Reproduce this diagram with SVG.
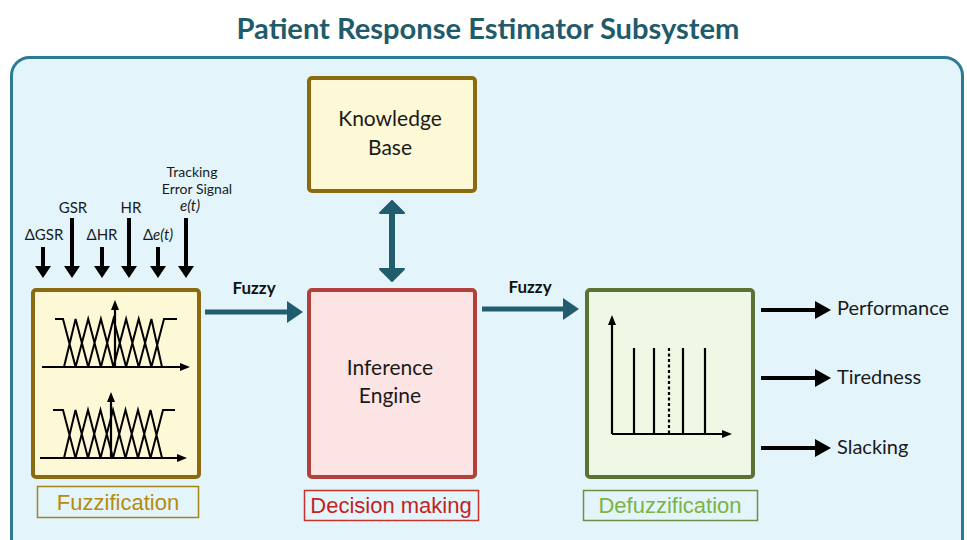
<svg xmlns="http://www.w3.org/2000/svg" width="967" height="540" viewBox="0 0 967 540">
<style>
.cal{font-family:Lato,"Open Sans","Liberation Sans",sans-serif;fill:#1a1a1a}
.lbl{font-family:"Liberation Sans",Arial,sans-serif;font-size:22px;text-anchor:middle}
.box{stroke-width:4}
.ax{stroke:#000;stroke-width:2.2;fill:none}
.mf{stroke:#000;stroke-width:2;fill:none;stroke-linejoin:miter}
.teal{stroke:#215d6e;stroke-width:5;fill:none}
.blk{stroke:#000;stroke-width:4;fill:none}
.fz{font-family:Lato,"Open Sans",sans-serif;font-weight:bold;font-size:17px;fill:#111;text-anchor:middle}
</style>
<defs>
<marker id="tealHead" markerUnits="userSpaceOnUse" viewBox="0 0 16 22" markerWidth="16" markerHeight="22" refX="0" refY="11" orient="auto"><path d="M0,0 L16,11 L0,22 Z" fill="#215d6e"/></marker>
<marker id="dblHead" markerUnits="userSpaceOnUse" viewBox="0 0 14 28" markerWidth="14" markerHeight="28" refX="1" refY="14" orient="auto-start-reverse"><path d="M1,2 L13,14 L1,26 Z" fill="#215d6e" stroke="#215d6e" stroke-width="2" stroke-linejoin="round"/></marker>
<marker id="inHead" markerUnits="userSpaceOnUse" viewBox="0 0 12 16" markerWidth="12" markerHeight="16" refX="0" refY="8" orient="auto"><path d="M0,0 L12,8 L0,16 Z" fill="#000"/></marker>
<marker id="outHead" markerUnits="userSpaceOnUse" viewBox="0 0 16 18" markerWidth="16" markerHeight="18" refX="0" refY="9" orient="auto"><path d="M0,0 L16,9 L0,18 Z" fill="#000"/></marker>
<marker id="axHead" markerUnits="userSpaceOnUse" viewBox="0 0 10 8" markerWidth="10" markerHeight="8" refX="0" refY="4" orient="auto"><path d="M0,0 L10,4 L0,8 Z" fill="#000"/></marker>
</defs>

<rect width="967" height="540" fill="#ffffff"/>
<text x="488" y="39" font-family="Lato,'Open Sans',sans-serif" font-weight="bold" font-size="29" fill="#1f5b6b" text-anchor="middle" textLength="503" lengthAdjust="spacingAndGlyphs">Patient Response Estimator Subsystem</text>

<g id="frame">
<rect x="11.5" y="57.5" width="951" height="520" rx="18" fill="#e3f5fb" stroke="#2b7b97" stroke-width="3"/>
</g>

<g id="knowledge-base">
<rect class="box" x="309" y="78" width="166" height="113" rx="3" fill="#fdf8d6" stroke="#8a6b10"/>
<text class="cal" x="390" y="126" font-size="21" text-anchor="middle">Knowledge</text>
<text class="cal" x="390" y="155" font-size="21" text-anchor="middle">Base</text>
</g>

<g id="inference-engine">
<rect class="box" x="309" y="290" width="166" height="187" rx="3" fill="#fbe4e3" stroke="#b2403c"/>
<text class="cal" x="390" y="375" font-size="21" text-anchor="middle">Inference</text>
<text class="cal" x="390" y="403" font-size="21" text-anchor="middle">Engine</text>
<rect x="304.5" y="490.5" width="174" height="30" fill="none" stroke="#c8302c" stroke-width="1.5"/>
<text class="lbl" x="391" y="513" fill="#c41f1f">Decision making</text>
</g>

<g id="fuzzification">
<rect class="box" x="33" y="290" width="166" height="187" rx="3" fill="#fdf8d6" stroke="#8a6b10"/>
<line class="ax" x1="42" y1="367" x2="180" y2="367" marker-end="url(#axHead)"/>
<line class="ax" x1="115" y1="367" x2="115" y2="310" marker-end="url(#axHead)"/>
<path class="mf" d="M55,319 H63 L75.6,367 M64,367 L75.6,319 L88.2,367 M75.6,367 L88.2,319 L100.9,367 M88.2,367 L100.9,319 L113.5,367 M100.9,367 L113.5,319 L126.1,367 M113.5,367 L126.1,319 L138.7,367 M126.1,367 L138.7,319 L151.4,367 M138.7,367 L151.4,319 L162,367 M151.4,367 L164,319 H177"/>
<line class="ax" x1="40" y1="458" x2="177" y2="458" marker-end="url(#axHead)"/>
<line class="ax" x1="111" y1="458" x2="111" y2="402" marker-end="url(#axHead)"/>
<path class="mf" d="M53,410 H63 L75.5,458 M64,458 L75.5,410 L88,458 M75.5,458 L88,410 L100.5,458 M88,458 L100.5,410 L113,458 M100.5,458 L113,410 L125.5,458 M113,458 L125.5,410 L138,458 M125.5,458 L138,410 L150.5,458 M138,458 L150.5,410 L162,458 M150.5,458 L163,410 H175"/>
<rect x="37.5" y="486.5" width="161" height="31" fill="none" stroke="#a5841c" stroke-width="1.5"/>
<text class="lbl" x="118" y="510" fill="#b48c0e" font-size="23">Fuzzification</text>
</g>

<g id="defuzzification">
<rect class="box" x="587" y="290" width="166" height="187" rx="3" fill="#eff8e4" stroke="#5b7232"/>
<line class="ax" x1="612" y1="434" x2="612" y2="325" marker-end="url(#axHead)"/>
<line class="ax" x1="612" y1="434" x2="722" y2="434" marker-end="url(#axHead)"/>
<path class="ax" d="M634,348 V434 M654,348 V434 M683,348 V434 M705,348 V434"/>
<line class="ax" x1="669" y1="348" x2="669" y2="434" stroke-dasharray="3,2.5"/>
<rect x="583.5" y="490.5" width="174" height="30" fill="none" stroke="#6f8f47" stroke-width="1.5"/>
<text class="lbl" x="670" y="513" fill="#7cb342">Defuzzification</text>
</g>

<g id="inputs">
<text class="cal" x="44" y="240" font-size="15" text-anchor="middle">ΔGSR</text>
<text class="cal" x="73" y="213" font-size="15" text-anchor="middle">GSR</text>
<text class="cal" x="102" y="240" font-size="15" text-anchor="middle">ΔHR</text>
<text class="cal" x="131" y="213" font-size="15" text-anchor="middle">HR</text>
<text class="cal" x="158" y="240" font-size="15" text-anchor="middle">Δ<tspan font-style="italic">e(t)</tspan></text>
<text class="cal" x="192" y="176.5" font-size="14" text-anchor="middle">Tracking</text>
<text class="cal" x="197" y="194" font-size="14" text-anchor="middle">Error Signal</text>
<text class="cal" x="190" y="211" font-size="15" text-anchor="middle" font-style="italic">e(t)</text>
</g>

<g id="outputs">
<text class="cal" x="837" y="315" font-size="20">Performance</text>
<text class="cal" x="837" y="384" font-size="20">Tiredness</text>
<text class="cal" x="837" y="454" font-size="20">Slacking</text>
</g>

<g id="connectors">
<line class="blk" x1="43" y1="247" x2="43" y2="266" marker-end="url(#inHead)"/>
<line class="blk" x1="72" y1="218" x2="72" y2="266" marker-end="url(#inHead)"/>
<line class="blk" x1="102" y1="247" x2="102" y2="266" marker-end="url(#inHead)"/>
<line class="blk" x1="129" y1="218" x2="129" y2="266" marker-end="url(#inHead)"/>
<line class="blk" x1="158" y1="247" x2="158" y2="266" marker-end="url(#inHead)"/>
<line class="blk" x1="186" y1="218" x2="186" y2="266" marker-end="url(#inHead)"/>
<line class="teal" x1="205" y1="312" x2="287" y2="312" marker-end="url(#tealHead)"/>
<text class="fz" x="254" y="294">Fuzzy</text>
<line class="teal" x1="482" y1="309" x2="563" y2="309" marker-end="url(#tealHead)"/>
<text class="fz" x="530" y="293">Fuzzy</text>
<line x1="392" y1="213" x2="392" y2="269" stroke="#215d6e" stroke-width="6" marker-start="url(#dblHead)" marker-end="url(#dblHead)"/>
<line class="blk" x1="761" y1="310" x2="815" y2="310" marker-end="url(#outHead)"/>
<line class="blk" x1="761" y1="378" x2="815" y2="378" marker-end="url(#outHead)"/>
<line class="blk" x1="761" y1="448" x2="815" y2="448" marker-end="url(#outHead)"/>
</g>
</svg>
